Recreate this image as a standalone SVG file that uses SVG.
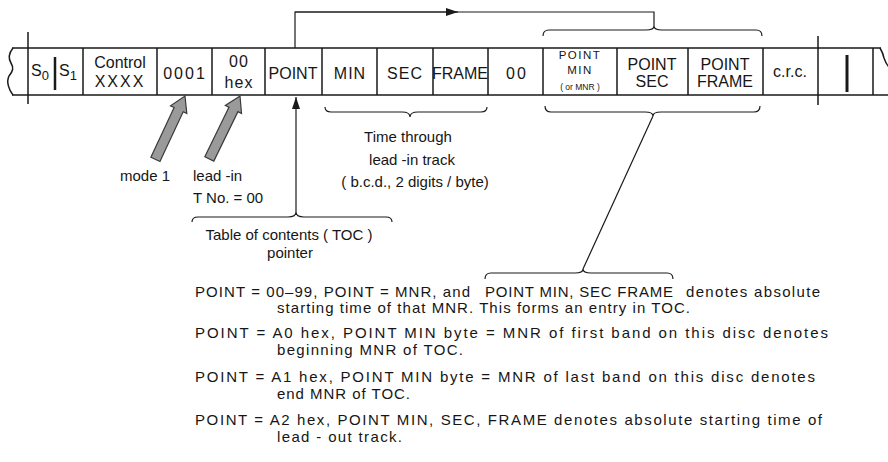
<svg xmlns="http://www.w3.org/2000/svg" width="888" height="462" viewBox="0 0 888 462">
<defs>
<style>
.ln{fill:none;stroke:#1a1a1a;stroke-width:1.5}
.thin{fill:none;stroke:#1a1a1a;stroke-width:1.2}
.t{font-family:"Liberation Sans",Arial,sans-serif;fill:#161616;font-size:16px}
.c{text-anchor:middle}
.s{font-size:15px}
.blk{fill:#9a9a9a;stroke:#3a3a3a;stroke-width:1.2}
</style>
<marker id="ah" viewBox="0 0 12 8" refX="12" refY="4" markerWidth="12" markerHeight="8" markerUnits="userSpaceOnUse" orient="auto"><path d="M0,0 L12,4 L0,8 Z" fill="#1a1a1a"/></marker>
</defs>
<rect width="888" height="462" fill="#ffffff"/>

<g id="strip">
<path class="ln" d="M12,48 H881 M12,95 H888"/>
<path class="ln" d="M13,48 C9,53 8,58 11,63 C14,68 13,71 9,76 C6,82 9,90 13,95"/>
<path class="ln" d="M880,48 Q883,53 884,58 Q886,64 889,67"/>
<path class="ln" d="M28,32 V104 M818,36 V105"/>
<path class="ln" d="M83,48V95 M157,48V95 M212,48V95 M265,48V95 M322,48V95 M377,48V95 M433,48V95 M488,48V95 M543,48V95 M617,48V95 M688,48V95 M763,48V95 M873,48V95"/>
</g>

<g id="cell-s0s1">
<text class="t" x="31" y="76" font-size="17">S<tspan font-size="13" dy="4">0</tspan></text>
<path d="M55,57 V90" stroke="#1a1a1a" stroke-width="2.5"/>
<text class="t" x="59" y="76" font-size="17">S<tspan font-size="13" dy="4">1</tspan></text>
</g>
<g id="cell-control"><text class="t c" x="120" y="68">Control</text><text class="t c" x="120" y="87" letter-spacing="2">XXXX</text></g>
<g id="cell-0001"><text class="t c" x="185" y="79" letter-spacing="2" font-size="17">0001</text></g>
<g id="cell-00hex"><text class="t c" x="239" y="67" letter-spacing="1" font-size="17">00</text><text class="t c" x="239" y="88" letter-spacing="1" font-size="17">hex</text></g>
<g id="cell-point"><text class="t c" x="293" y="79" font-size="17">POINT</text></g>
<g id="cell-min"><text class="t c" x="350" y="79" letter-spacing="1" font-size="17">MIN</text></g>
<g id="cell-sec"><text class="t c" x="405" y="79" letter-spacing="1" font-size="17">SEC</text></g>
<g id="cell-frame"><text class="t c" x="460" y="79" font-size="16">FRAME</text></g>
<g id="cell-00"><text class="t c" x="517" y="79" letter-spacing="2" font-size="17">00</text></g>
<g id="cell-pointmin"><text class="t c" style="font-size:11.5px" letter-spacing="1.5"><tspan x="580" y="59">POINT</tspan><tspan x="580" y="74">MIN</tspan><tspan x="580" y="90" style="font-size:8.5px" letter-spacing="0">( or MNR )</tspan></text></g>
<g id="cell-pointsec"><text class="t c" x="652" y="70">POINT</text><text class="t c" x="652" y="87">SEC</text></g>
<g id="cell-pointframe"><text class="t c" x="725" y="70">POINT</text><text class="t c" x="725" y="87">FRAME</text></g>
<g id="cell-crc"><text class="t c" x="790" y="77" font-size="14">c.r.c.</text></g>
<g id="cell-next"><path d="M847,55 V92" stroke="#1a1a1a" stroke-width="3"/></g>

<g id="connectors">
<path class="thin" d="M295,48 V12 H654 V26"/>
<path class="thin" d="M295,12 H458" marker-end="url(#ah)"/>
<path class="thin" d="M543,36 Q543,30 549,30 H646 Q654,30 654,26 Q654,30 662,30 H756 Q762,30 762,36"/>
<path class="thin" d="M325,107 Q325,112 331,112 H402 Q410,112 410,117 Q410,112 418,112 H481 Q487,112 487,107"/>
<path class="thin" d="M192,222 Q192,217 198,217 H288 Q296,217 296,212 Q296,217 304,217 H386 Q392,217 392,222"/>
<path class="thin" d="M296,212 V97" marker-end="url(#ah)"/>
<path class="thin" d="M545,106 Q545,112 551,112 H645 Q653,112 653,116 Q653,112 661,112 H754 Q760,112 760,106"/>
<path class="thin" d="M653,116 L583,269"/>
<path class="thin" d="M485,279 Q485,273 491,273 H575 Q583,273 583,269 Q583,273 591,273 H667 Q673,273 673,279"/>
<polygon class="blk" points="0,0 9,15 5,15 5,70 -5,70 -5,15 -9,15" transform="translate(185,96) rotate(25)"/>
<polygon class="blk" points="0,0 9,15 5,15 5,70 -5,70 -5,15 -9,15" transform="translate(240,96) rotate(26)"/>
</g>

<g id="labels">
<text class="t s" x="120" y="181">mode 1</text>
<text class="t s" x="193" y="181">lead -in</text>
<text class="t s" x="193" y="203">T No. = 00</text>
<text class="t s c" x="408" y="142">Time  through</text>
<text class="t s c" x="412" y="165">lead -in track</text>
<text class="t s c" x="415" y="187">( b.c.d., 2 digits / byte)</text>
<text class="t s c" x="289" y="240" font-size="14">Table of contents ( TOC )</text>
<text class="t s c" x="290" y="258" font-size="14">pointer</text>
</g>

<g id="notes">
<text class="t s" x="195" y="297" textLength="275" lengthAdjust="spacing">POINT = 00–99, POINT = MNR, and</text>
<text class="t s" x="485" y="297" textLength="188" lengthAdjust="spacing">POINT MIN, SEC FRAME</text>
<text class="t s" x="686" y="297" textLength="134" lengthAdjust="spacing">denotes absolute</text>
<text class="t s" x="277" y="313" textLength="413" lengthAdjust="spacing">starting time of that MNR. This forms an entry in TOC.</text>
<text class="t s" x="195" y="338" textLength="633" lengthAdjust="spacing">POINT = A0 hex, POINT MIN byte = MNR of first band on this disc denotes</text>
<text class="t s" x="277" y="355" textLength="186" lengthAdjust="spacing">beginning MNR of TOC.</text>
<text class="t s" x="195" y="382" textLength="620" lengthAdjust="spacing">POINT = A1 hex, POINT MIN byte = MNR of last band on this disc denotes</text>
<text class="t s" x="277" y="399" textLength="133" lengthAdjust="spacing">end MNR of TOC.</text>
<text class="t s" x="195" y="425" textLength="627" lengthAdjust="spacing">POINT = A2 hex, POINT MIN, SEC, FRAME denotes absolute starting time of</text>
<text class="t s" x="277" y="442" textLength="125" lengthAdjust="spacing">lead - out track.</text>
</g>
</svg>
